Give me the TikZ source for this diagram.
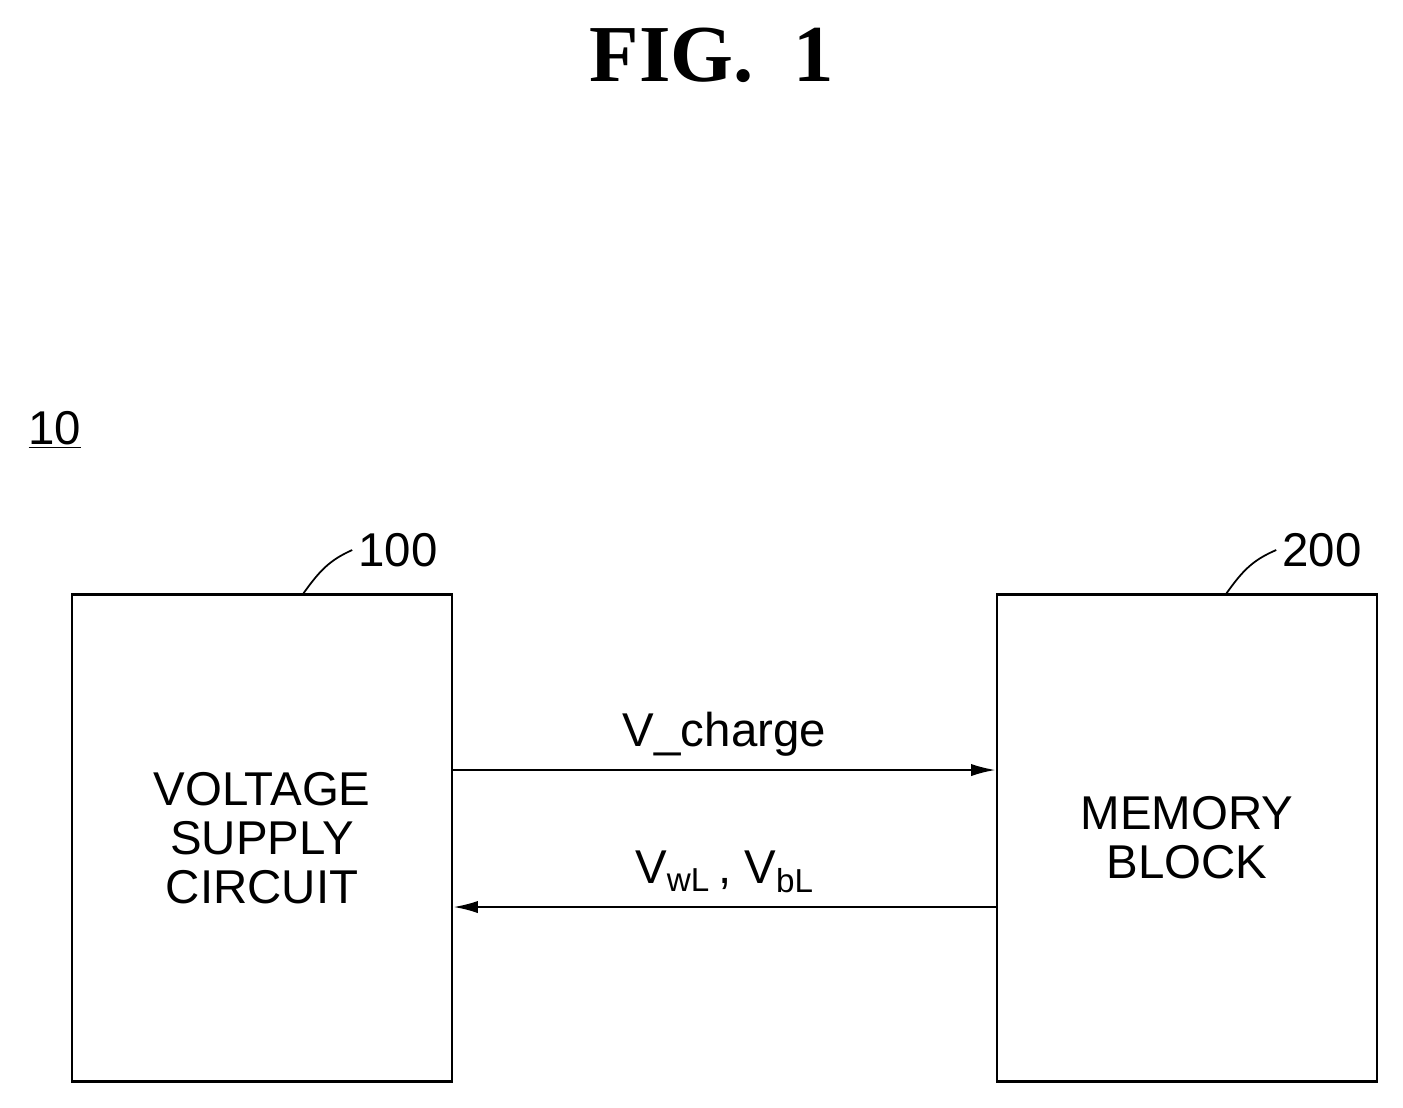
\documentclass[tikz,border=0pt]{standalone}
\usepackage{fontspec}
\setsansfont{Liberation Sans}
\setmainfont{Liberation Serif}
\usetikzlibrary{positioning,arrows.meta}
\tikzset{
  block/.style={draw, line width=1.6pt, minimum width=7.6cm, minimum height=9.74cm, inner sep=0pt,
    font=\sffamily\fontsize{27}{28}\selectfont, align=center},
  sig/.style={line width=1.2pt, -{Latex[length=14pt,width=7pt]}},
  lbl/.style={font=\sffamily\fontsize{27}{31}\selectfont},
  leader/.style={line width=1pt}
}
\begin{document}
\begin{tikzpicture}[x=0.02cm,y=-0.02cm]
  \useasboundingbox (0,0) rectangle (1403,1107);
  % title
  \node[font=\bfseries\fontsize{46}{50}\selectfont] (title) at (712,55) {FIG.\ \ 1};
  \node[lbl] (sys) at (55,430) {\underline{10}};
  % blocks
  \node[block] (vsc) at (262,838) {VOLTAGE\\SUPPLY\\CIRCUIT};
  \node[block] (mem) at (1187,838) {MEMORY\\BLOCK};
  % reference numbers
  \node[lbl] (n100) at (398,550) {100};
  \node[lbl] (n200) at (1322,550) {200};
  \coordinate (a1) at (303,594);
  \coordinate (a2) at (1226,594);
  \draw[leader] (a1) .. controls (320,570) and (330,560) .. (n100.west);
  \draw[leader] (a2) .. controls (1243,570) and (1253,560) .. (n200.west);
  % signals
  \draw[sig] (vsc.east |- 0,770) -- (mem.west |- 0,770)
    node[lbl, midway, above=4pt] (vch) {V\_charge};
  \draw[sig] (mem.west |- 0,907) -- (vsc.east |- 0,907)
    node[lbl, midway, above=4pt] (vwb) {V$_{\mathsf{wL}}$\,, V$_{\mathsf{bL}}$};
\end{tikzpicture}
\end{document}
